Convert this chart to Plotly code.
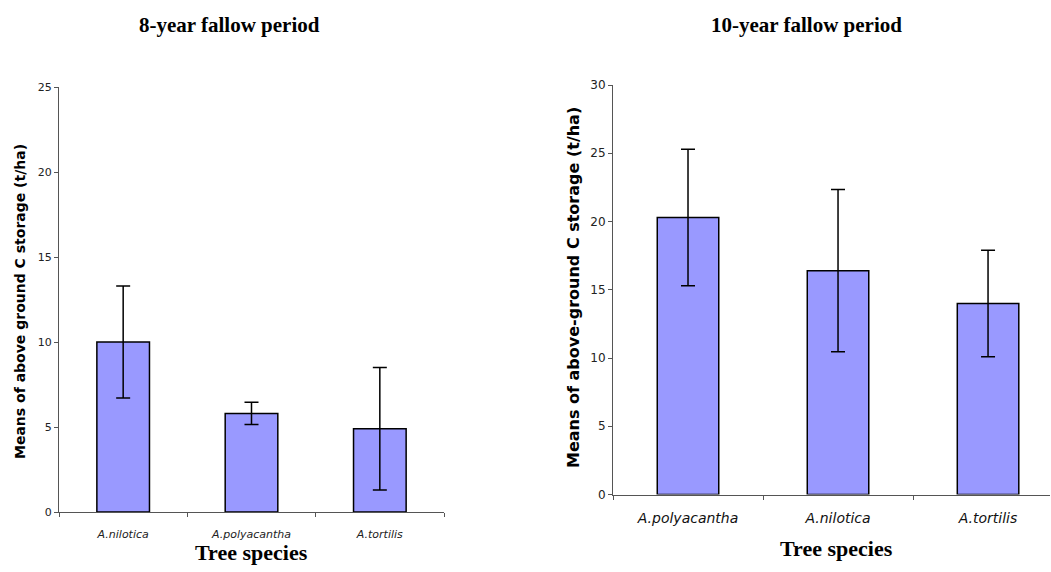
import plotly.graph_objects as go

W, H = 1051, 572

# ---- data ----
species_8 = ["A.nilotica", "A.polyacantha", "A.tortilis"]
means_8 = [10.0, 5.8, 4.9]
err_8 = [3.3, 0.65, 3.6]

species_10 = ["A.polyacantha", "A.nilotica", "A.tortilis"]
means_10 = [20.3, 16.4, 14.0]
err_10 = [5.0, 5.95, 3.9]

title_8 = "8-year fallow period"
title_10 = "10-year fallow period"
ytitle_8 = "Means of above ground C storage (t/ha)"
ytitle_10 = "Means of above-ground C storage (t/ha)"
xtitle = "Tree species"

BAR = "#9999FF"


def px(x):
    return x / W


def py(y):
    return 1 - y / H


fig = go.Figure()
fig.add_trace(go.Bar(
    x=species_8, y=means_8, xaxis="x", yaxis="y", width=0.41,
    marker=dict(color=BAR, line=dict(color="black", width=1.5)),
    error_y=dict(type="data", array=err_8, color="black", thickness=1.5, width=7),
    showlegend=False))
fig.add_trace(go.Bar(
    x=species_10, y=means_10, xaxis="x2", yaxis="y2", width=0.41,
    marker=dict(color=BAR, line=dict(color="black", width=1.5)),
    error_y=dict(type="data", array=err_10, color="black", thickness=1.5, width=7),
    showlegend=False))

axcol = "#555555"
common_y = dict(showgrid=False, zeroline=False, showline=True, linecolor=axcol, linewidth=1,
                ticks="outside", ticklen=4, tickcolor=axcol, automargin=False)
common_x = dict(showgrid=False, zeroline=False, showline=True, linecolor=axcol, linewidth=1,
                ticks="outside", ticklen=4, tickcolor=axcol, tickson="boundaries",
                type="category", automargin=False)

fig.update_layout(
    width=W, height=H,
    margin=dict(l=0, r=0, t=0, b=0),
    paper_bgcolor="white", plot_bgcolor="white",
    xaxis=dict(domain=[px(59), px(444)], anchor="y", range=[-0.5, 2.5],
               ticklabelstandoff=12,
               tickfont=dict(family="DejaVu Sans", size=11, style="italic", color="#222"),
               **common_x),
    yaxis=dict(domain=[py(512), py(87)], anchor="x", range=[0, 25], dtick=5,
               tickfont=dict(family="DejaVu Sans", size=11, color="#222"), **common_y),
    xaxis2=dict(domain=[px(613), px(1050)], anchor="y2", range=[-0.5, 2.413],
                ticklabelstandoff=11,
                tickfont=dict(family="DejaVu Sans", size=14, style="italic", color="#111"),
                **common_x),
    yaxis2=dict(domain=[py(494.5), py(85)], anchor="x2", range=[0, 30], dtick=5,
                tickfont=dict(family="DejaVu Sans", size=12, color="#222"), **common_y),
)

ann = []
ann.append(dict(text=title_8, x=px(229), y=py(25), xref="paper", yref="paper",
                showarrow=False, xanchor="center", yanchor="middle",
                font=dict(family="Liberation Serif", size=21, weight="bold", color="black")))
ann.append(dict(text=title_10, x=px(806), y=py(25), xref="paper", yref="paper",
                showarrow=False, xanchor="center", yanchor="middle",
                font=dict(family="Liberation Serif", size=21, weight="bold", color="black")))
ann.append(dict(text=xtitle, x=px(251), y=py(552), xref="paper", yref="paper",
                showarrow=False, xanchor="center", yanchor="middle",
                font=dict(family="Liberation Serif", size=22, weight="bold", color="black")))
ann.append(dict(text=xtitle, x=px(836), y=py(548), xref="paper", yref="paper",
                showarrow=False, xanchor="center", yanchor="middle",
                font=dict(family="Liberation Serif", size=22, weight="bold", color="black")))
ann.append(dict(text=ytitle_8, x=px(20), y=py(302), xref="paper", yref="paper",
                showarrow=False, xanchor="center", yanchor="middle", textangle=-90,
                font=dict(family="DejaVu Sans", size=14, weight="bold", color="black")))
ann.append(dict(text=ytitle_10, x=px(573), y=py(288), xref="paper", yref="paper",
                showarrow=False, xanchor="center", yanchor="middle", textangle=-90,
                font=dict(family="DejaVu Sans", size=16, weight="bold", color="black")))
fig.update_layout(annotations=ann)

fig.write_html("out.html")
